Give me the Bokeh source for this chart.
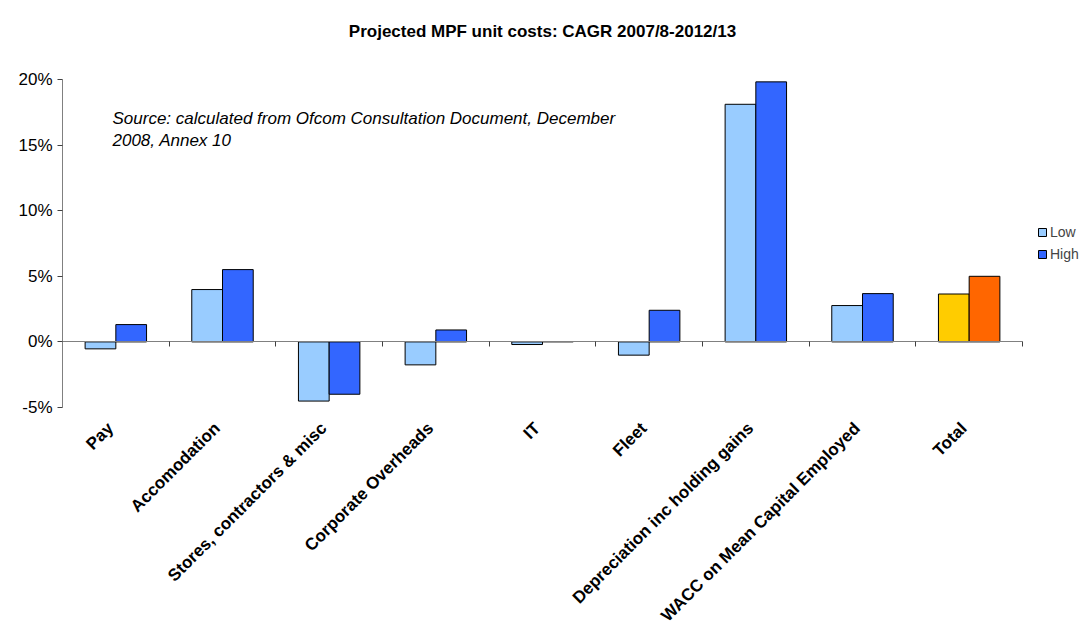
from bokeh.plotting import figure
from bokeh.models import (FixedTicker, LinearAxis, PrintfTickFormatter, Label,
                          Legend, LegendItem, ColumnDataSource, Range1d)
from bokeh.embed import file_html
from bokeh.resources import INLINE
import math

categories = ["Pay", "Accomodation", "Stores, contractors & misc", "Corporate Overheads",
              "IT", "Fleet", "Depreciation inc holding gains",
              "WACC on Mean Capital Employed", "Total"]
low = [-0.53, 3.99, -4.51, -1.75, -0.2, -1.01, 18.11, 2.77, 3.65]
high = [1.32, 5.51, -3.99, 0.91, 0.03, 2.41, 19.82, 3.68, 5.0]
y_ticks = [-5, 0, 5, 10, 15, 20]

FONT = "Liberation Sans"
n = len(categories)
bw = 0.288
centers = [i + 0.5 for i in range(n)]
label_pos = [c - 0.05 for c in centers]

# frame spans x 62..1085 and y 0..407 (px); data region 0..n x -5..20 inside it
px_per_x = 960 / n
px_per_y = 328 / 25
x_end = 1023 / px_per_x
y_end = -5 + 407 / px_per_y

p = figure(width=1085, height=639, output_backend="svg", toolbar_location=None,
           x_range=Range1d(0, x_end), y_range=Range1d(-5, y_end),
           min_border_left=62, min_border_right=0, min_border_top=0,
           min_border_bottom=232)
p.outline_line_color = None
p.xgrid.visible = False
p.ygrid.visible = False
p.background_fill_color = "white"
p.border_fill_color = "white"

low_colors = ["#99CCFF"] * (n - 1) + ["#FFCC00"]
high_colors = ["#3366FF"] * (n - 1) + ["#FF6600"]

src_low = ColumnDataSource(dict(x=[c - bw / 2 for c in centers], top=low, color=low_colors))
src_high = ColumnDataSource(dict(x=[c + bw / 2 for c in centers], top=high, color=high_colors))

p.vbar(x="x", top="top", bottom=0, width=bw, fill_color="color",
       line_color="#000000", line_width=1, source=src_low)
p.vbar(x="x", top="top", bottom=0, width=bw, fill_color="color",
       line_color="#000000", line_width=1, source=src_high)

dummy_low = p.vbar(x=[centers[0]], top=[0], width=0, fill_color="#99CCFF", line_color="#000000",
                   visible=False)
dummy_high = p.vbar(x=[centers[0]], top=[0], width=0, fill_color="#3366FF", line_color="#000000",
                    visible=False)

# y axis
yax = p.yaxis[0]
yax.ticker = FixedTicker(ticks=y_ticks)
yax.bounds = (y_ticks[0], y_ticks[-1])
yax.formatter = PrintfTickFormatter(format="%d%%")
yax.major_label_text_font = FONT
yax.major_label_text_font_size = "17px"
yax.major_label_text_color = "#000000"
yax.axis_line_color = "#808080"
yax.major_tick_line_color = "#404040"
yax.major_tick_in = 0
yax.major_tick_out = 5
yax.minor_tick_line_color = None
yax.major_label_standoff = 5

# x axis with labels (below)
xax = p.xaxis[0]
xax.ticker = FixedTicker(ticks=label_pos)
xax.major_label_overrides = {c: lab for c, lab in zip(label_pos, categories)}
xax.major_label_orientation = math.pi / 4
xax.major_label_text_font = FONT
xax.major_label_text_font_size = "17px"
xax.major_label_text_font_style = "bold"
xax.major_label_text_color = "#000000"
xax.axis_line_color = None
xax.major_tick_line_color = None
xax.minor_tick_line_color = None
xax.major_label_standoff = 12

# zero axis with category-boundary ticks
zax = LinearAxis(fixed_location=0, ticker=FixedTicker(ticks=list(range(n + 1))))
zax.bounds = (0, n)
zax.axis_line_color = "#808080"
zax.major_tick_line_color = "#404040"
zax.major_tick_in = 0
zax.major_tick_out = 5
zax.minor_tick_line_color = None
zax.major_label_text_font_size = "0px"
zax.major_label_text_color = None
p.add_layout(zax, "below")

# title
p.add_layout(Label(x=480, y=376, x_units="screen", y_units="screen",
                   text="Projected MPF unit costs: CAGR 2007/8-2012/13",
                   text_font=FONT, text_font_size="17px", text_font_style="bold",
                   text_align="center", text_baseline="middle", text_color="#000000"))

# source note
p.add_layout(Label(x=50, y=289, x_units="screen", y_units="screen",
                   text="Source: calculated from Ofcom Consultation Document, December",
                   text_font=FONT, text_font_size="17px", text_font_style="italic",
                   text_align="left", text_baseline="middle", text_color="#000000"))
p.add_layout(Label(x=50, y=267, x_units="screen", y_units="screen",
                   text="2008, Annex 10",
                   text_font=FONT, text_font_size="17px", text_font_style="italic",
                   text_align="left", text_baseline="middle", text_color="#000000"))

legend = Legend(items=[LegendItem(label="Low", renderers=[dummy_low]),
                       LegendItem(label="High", renderers=[dummy_high])],
                location=(975, 143), border_line_color=None, background_fill_alpha=0,
                glyph_width=10, glyph_height=10, label_text_font=FONT,
                label_text_font_size="14px", label_height=20, spacing=2,
                padding=0, margin=0, label_standoff=3)
p.add_layout(legend, "center")

open("out.html", "w").write(file_html(p, INLINE))
